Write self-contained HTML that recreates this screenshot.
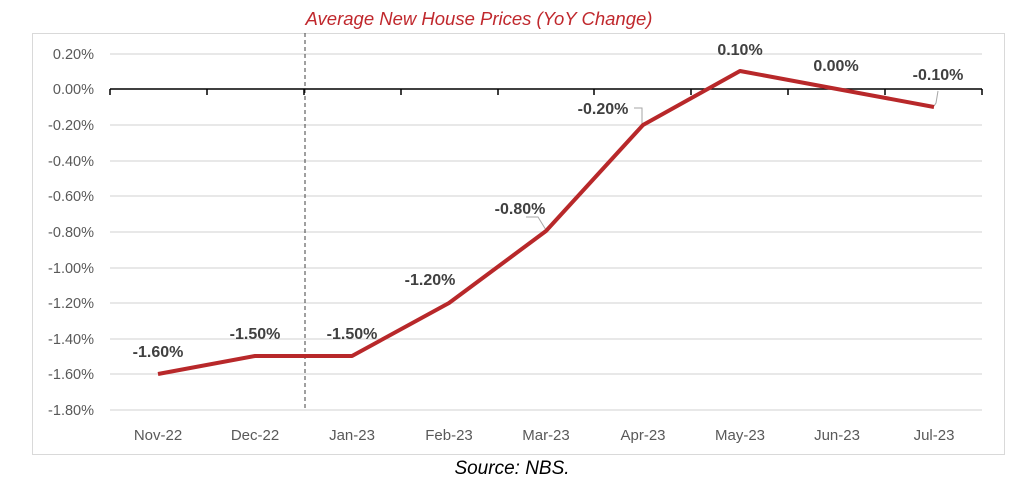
<!DOCTYPE html>
<html><head><style>
body{margin:0;background:#fff;}
svg{display:block;font-family:"Liberation Sans",sans-serif;}
</style></head><body>
<svg width="1024" height="486" viewBox="0 0 1024 486">
<rect x="32.5" y="33.5" width="972" height="421" fill="#fff" stroke="#d9d9d9" stroke-width="1"/>
<text x="479" y="25" text-anchor="middle" font-size="18.5" font-style="italic" fill="#c0282d">Average New House Prices (YoY Change)</text>
<g stroke="#d9d9d9" stroke-width="1.2">
<line x1="110" x2="982" y1="54" y2="54"/>
<line x1="110" x2="982" y1="125" y2="125"/>
<line x1="110" x2="982" y1="161" y2="161"/>
<line x1="110" x2="982" y1="196" y2="196"/>
<line x1="110" x2="982" y1="232" y2="232"/>
<line x1="110" x2="982" y1="268" y2="268"/>
<line x1="110" x2="982" y1="303" y2="303"/>
<line x1="110" x2="982" y1="339" y2="339"/>
<line x1="110" x2="982" y1="374" y2="374"/>
<line x1="110" x2="982" y1="410" y2="410"/>
</g>
<g font-size="14.5" fill="#595959" text-anchor="end">
<text x="94" y="59">0.20%</text><text x="94" y="94">0.00%</text><text x="94" y="130">-0.20%</text>
<text x="94" y="166">-0.40%</text><text x="94" y="201">-0.60%</text><text x="94" y="237">-0.80%</text>
<text x="94" y="273">-1.00%</text><text x="94" y="308">-1.20%</text><text x="94" y="344">-1.40%</text>
<text x="94" y="379">-1.60%</text><text x="94" y="415">-1.80%</text>
</g>
<line x1="305" x2="305" y1="33" y2="410" stroke="#404040" stroke-width="1" stroke-dasharray="4,3"/>
<g stroke="#000" stroke-width="1.5">
<line x1="110" x2="982" y1="89" y2="89"/>
<line x1="110" x2="110" y1="89" y2="95"/><line x1="207" x2="207" y1="89" y2="95"/>
<line x1="304" x2="304" y1="89" y2="95"/><line x1="401" x2="401" y1="89" y2="95"/>
<line x1="498" x2="498" y1="89" y2="95"/><line x1="594" x2="594" y1="89" y2="95"/>
<line x1="691" x2="691" y1="89" y2="95"/><line x1="788" x2="788" y1="89" y2="95"/>
<line x1="885" x2="885" y1="89" y2="95"/><line x1="982" x2="982" y1="89" y2="95"/>
</g>
<g font-size="15" fill="#595959" text-anchor="middle">
<text x="158" y="440">Nov-22</text><text x="255" y="440">Dec-22</text><text x="352" y="440">Jan-23</text>
<text x="449" y="440">Feb-23</text><text x="546" y="440">Mar-23</text><text x="643" y="440">Apr-23</text>
<text x="740" y="440">May-23</text><text x="837" y="440">Jun-23</text><text x="934" y="440">Jul-23</text>
</g>
<g stroke="#a6a6a6" stroke-width="1" fill="none">
<polyline points="526,217 538,217 546,230"/>
<polyline points="634,108 642,108 642,124"/>
<polyline points="938,91 936,103 934,106"/>
</g>
<polyline fill="none" stroke="#b8282a" stroke-width="4" stroke-linejoin="round"
 points="158,374 255,356 352,356 449,303 546,231 643,125 740,71 837,89 934,107"/>
<g font-size="16" font-weight="bold" fill="#404040" text-anchor="middle">
<text x="158" y="357">-1.60%</text><text x="255" y="339">-1.50%</text><text x="352" y="339">-1.50%</text>
<text x="430" y="285">-1.20%</text><text x="520" y="214">-0.80%</text><text x="603" y="114">-0.20%</text>
<text x="740" y="55">0.10%</text><text x="836" y="71">0.00%</text><text x="938" y="80">-0.10%</text>
</g>
<text x="512" y="474" text-anchor="middle" font-size="19" font-style="italic" fill="#000">Source: NBS.</text>
</svg>
</body></html>
